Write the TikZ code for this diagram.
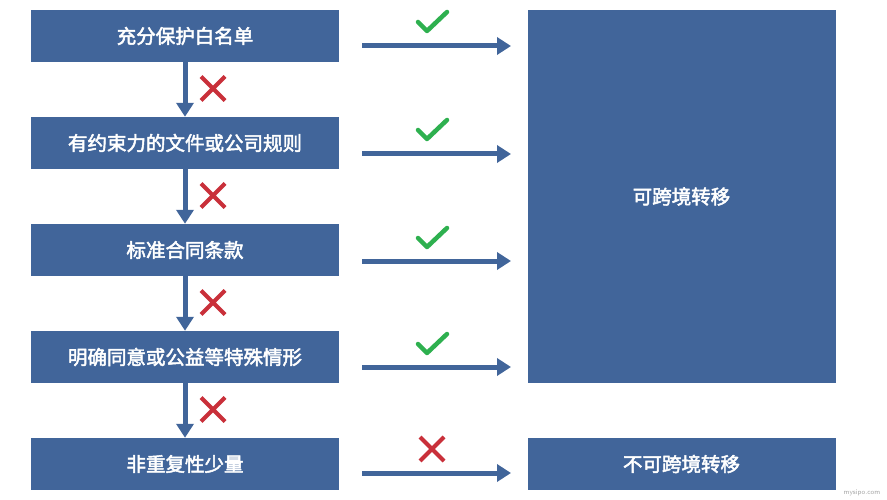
\documentclass[tikz,border=0pt]{standalone}
\usepackage{fontspec}
\newfontfamily\cjk[AutoFakeBold=2.5]{Noto Sans CJK SC}
\usetikzlibrary{positioning,arrows.meta,calc}
\definecolor{boxblue}{HTML}{41659A}
\definecolor{okgreen}{HTML}{2EB04F}
\definecolor{nored}{HTML}{C9303A}
\tikzset{
  stage/.style={fill=boxblue,minimum width=308pt,minimum height=52pt,inner sep=0pt,
    text=white,font=\cjk\bfseries\fontsize{19.5}{22}\selectfont},
  flow/.style={boxblue,line width=5pt,-{Triangle[length=14pt,width=17pt]}},
  ok/.style={okgreen,line width=4.5pt,line cap=round,line join=round},
  no/.style={nored,line width=4pt}
}
\newcommand\tick[1]{\draw[ok] ($(#1)+(-14,0)$) -- ++(9,9) -- ++(20,-19);}
\newcommand\cross[1]{\draw[no] ($(#1)+(-12,-12)$) -- ++(24,24) ($(#1)+(-12,12)$) -- ++(24,-24);}
\begin{document}
\begin{tikzpicture}[x=1pt,y=-1pt]
  \useasboundingbox[fill=white] (0,0) rectangle (887,500);
  % left column
  \node[stage] (s1) at (185,36) {充分保护白名单};
  \node[stage] (s2) at (185,143) {有约束力的文件或公司规则};
  \node[stage] (s3) at (185,250) {标准合同条款};
  \node[stage] (s4) at (185,357) {明确同意或公益等特殊情形};
  \node[stage] (s5) at (185,464) {非重复性少量};
  % right column
  \node[stage,minimum height=373pt] (yes) at (681.5,196.5) {可跨境转移};
  \node[stage] (nope) at (681.5,464) {不可跨境转移};
  % downward arrows with crosses
  \foreach \a/\b in {s1/s2,s2/s3,s3/s4,s4/s5} {
    \draw[flow] (\a.south) -- (\b.north);
    \cross{$(\a.south)!0.5!(\b.north)+(28,-1)$}
  }
  % horizontal arrows
  \foreach \y/\n in {46/1,154/2,261/3,367/4,473/5} {
    \coordinate (a\n) at (362,\y);
    \coordinate (b\n) at (511,\y);
    \draw[flow] (a\n) -- (b\n);
  }
  \tick{432,22}
  \tick{432,130}
  \tick{432,238}
  \tick{432,344}
  \cross{432,449}
  \node[font=\sffamily\fontsize{7}{8}\selectfont,text=gray!70] (mark) at (862,493) {mysipo.com};
\end{tikzpicture}
\end{document}
